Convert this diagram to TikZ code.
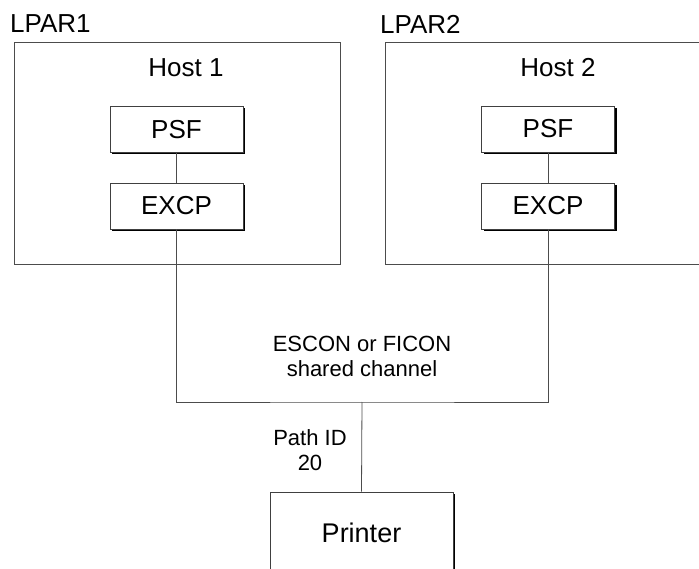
\documentclass[tikz,border=0pt]{standalone}
\usepackage{fontspec}
\setmainfont{Liberation Sans}
\usepackage{tikz}
\usetikzlibrary{positioning, shadows}

\begin{document}
\begin{tikzpicture}[x=1pt, y=-1pt,
    lpar/.style={draw=black!70, line width=0.8pt, minimum width=326pt, minimum height=222pt, inner sep=0pt},
    prog/.style={draw=black!75, fill=white, line width=0.8pt, minimum width=133pt, minimum height=46pt, inner sep=0pt,
        drop shadow={shadow xshift=2pt, shadow yshift=-2pt, fill=black, opacity=1},
        font=\fontsize{26}{30}\selectfont},
    big/.style={font=\fontsize{26}{30}\selectfont},
    small/.style={font=\fontsize{22}{25}\selectfont, align=center},
    wire/.style={draw=black!70, line width=0.8pt}]
    \useasboundingbox (0,0) rectangle (699,569);

    % the two partitions
    \node[lpar] (lpar1) at (177,153) {};
    \node[lpar] (lpar2) at (548,153) {};
    \node[big, anchor=west, inner sep=0pt] (lbl1) at (10,24) {LPAR1};
    \node[big, anchor=west, inner sep=0pt] (lbl2) at (380,24) {LPAR2};
    \node[big] (host1) at (186,68) {Host 1};
    \node[big] (host2) at (558,68) {Host 2};

    \node[prog] (psf1) at (176.5,129.5) {PSF};
    \node[prog] (excp1) at (176.5,206) {EXCP};
    \node[prog] (psf2) at (548,129) {PSF};
    \node[prog] (excp2) at (548,206) {EXCP};

    % channel and printer
    \coordinate (bus) at (362,402);
    \node[small] (chan) at (362,356) {ESCON or FICON\\shared channel};
    \node[prog, minimum width=183pt, minimum height=82pt, font=\fontsize{27}{30}\selectfont] (printer) at (361.5,533) {Printer};
    \node[small] (path) at (310,450) {Path ID\\20};

    \draw[wire] (psf1) -- (excp1);
    \draw[wire] (psf2) -- (excp2);
    \draw[wire] (excp1.south) |- (bus) -| (excp2.south);
    \draw[wire] (bus) -- (printer.north);
\end{tikzpicture}
\end{document}
